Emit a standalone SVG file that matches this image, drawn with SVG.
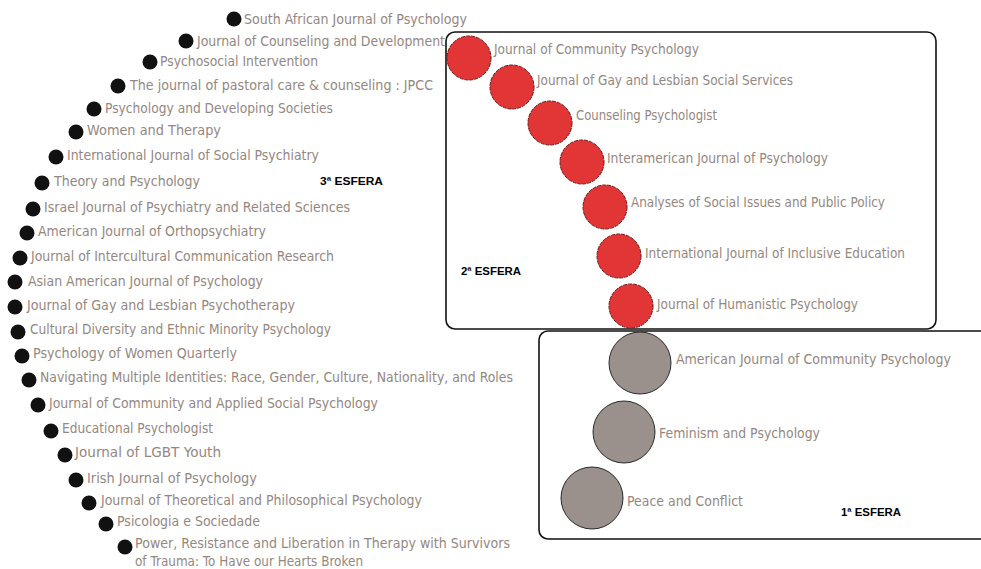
<svg xmlns="http://www.w3.org/2000/svg" width="981" height="569" viewBox="0 0 981 569">
  <style>
    .lbl { font-family: "DejaVu Sans", "Liberation Sans", sans-serif; font-size: 14px; fill: #94877f; }
    .dot { fill: #111; }
    .red { fill: #e23636; stroke: #6e1414; stroke-width: 1; stroke-dasharray: 4 1; }
    .grey { fill: #9a918c; stroke: #2a2a2a; stroke-width: 1; }
    .zone { fill: none; stroke: #111; stroke-width: 1.6; }
    .tag { font-family: "Liberation Sans", Arial, sans-serif; font-size: 11.5px; font-weight: bold; fill: #000; }
  </style>
  <rect width="981" height="569" fill="#fff"/>

  <!-- sphere boundaries -->
  <g id="zones">
    <rect class="zone" x="446" y="32" width="490" height="297" rx="9"/>
    <rect class="zone" x="539" y="331" width="460" height="208" rx="9"/>
  </g>

  <!-- sphere titles -->
  <g id="sphere-labels">
    <text class="tag" x="320" y="185" textLength="63" lengthAdjust="spacingAndGlyphs">3ª ESFERA</text>
    <text class="tag" x="461" y="275" textLength="60" lengthAdjust="spacingAndGlyphs">2ª ESFERA</text>
    <text class="tag" x="841" y="516" textLength="60" lengthAdjust="spacingAndGlyphs">1ª ESFERA</text>
  </g>

  <!-- third sphere: outer arc of journals -->
  <g id="n01"><circle class="dot" cx="234" cy="19" r="7.5"/><text class="lbl" x="244" y="24" textLength="223" lengthAdjust="spacingAndGlyphs">South African Journal of Psychology</text></g>
  <g id="n02"><circle class="dot" cx="186" cy="41" r="7.5"/><text class="lbl" x="197" y="46" textLength="248" lengthAdjust="spacingAndGlyphs">Journal of Counseling and Development</text></g>
  <g id="n03"><circle class="dot" cx="150" cy="62" r="7.5"/><text class="lbl" x="160" y="66" textLength="158" lengthAdjust="spacingAndGlyphs">Psychosocial Intervention</text></g>
  <g id="n04"><circle class="dot" cx="118" cy="86" r="7.5"/><text class="lbl" x="130" y="90" textLength="303" lengthAdjust="spacingAndGlyphs">The journal of pastoral care &amp; counseling : JPCC</text></g>
  <g id="n05"><circle class="dot" cx="94" cy="109" r="7.5"/><text class="lbl" x="105" y="113" textLength="228" lengthAdjust="spacingAndGlyphs">Psychology and Developing Societies</text></g>
  <g id="n06"><circle class="dot" cx="76" cy="132" r="7.5"/><text class="lbl" x="87" y="135" textLength="134" lengthAdjust="spacingAndGlyphs">Women and Therapy</text></g>
  <g id="n07"><circle class="dot" cx="56" cy="157" r="7.5"/><text class="lbl" x="67" y="160" textLength="252" lengthAdjust="spacingAndGlyphs">International Journal of Social Psychiatry</text></g>
  <g id="n08"><circle class="dot" cx="42" cy="183" r="7.5"/><text class="lbl" x="54" y="186" textLength="146" lengthAdjust="spacingAndGlyphs">Theory and Psychology</text></g>
  <g id="n09"><circle class="dot" cx="33" cy="209" r="7.5"/><text class="lbl" x="44" y="212" textLength="306" lengthAdjust="spacingAndGlyphs">Israel Journal of Psychiatry and Related Sciences</text></g>
  <g id="n10"><circle class="dot" cx="27" cy="233" r="7.5"/><text class="lbl" x="38" y="236" textLength="228" lengthAdjust="spacingAndGlyphs">American Journal of Orthopsychiatry</text></g>
  <g id="n11"><circle class="dot" cx="20" cy="258" r="7.5"/><text class="lbl" x="31" y="261" textLength="303" lengthAdjust="spacingAndGlyphs">Journal of Intercultural Communication Research</text></g>
  <g id="n12"><circle class="dot" cx="15" cy="282" r="7.5"/><text class="lbl" x="28" y="286" textLength="235" lengthAdjust="spacingAndGlyphs">Asian American Journal of Psychology</text></g>
  <g id="n13"><circle class="dot" cx="15" cy="307" r="7.5"/><text class="lbl" x="27" y="310" textLength="268" lengthAdjust="spacingAndGlyphs">Journal of Gay and Lesbian Psychotherapy</text></g>
  <g id="n14"><circle class="dot" cx="18" cy="332" r="7.5"/><text class="lbl" x="30" y="334" textLength="301" lengthAdjust="spacingAndGlyphs">Cultural Diversity and Ethnic Minority Psychology</text></g>
  <g id="n15"><circle class="dot" cx="22" cy="356" r="7.5"/><text class="lbl" x="33" y="358" textLength="204" lengthAdjust="spacingAndGlyphs">Psychology of Women Quarterly</text></g>
  <g id="n16"><circle class="dot" cx="29" cy="380" r="7.5"/><text class="lbl" x="40" y="382" textLength="473" lengthAdjust="spacingAndGlyphs">Navigating Multiple Identities: Race, Gender, Culture, Nationality, and Roles</text></g>
  <g id="n17"><circle class="dot" cx="38" cy="405" r="7.5"/><text class="lbl" x="49" y="408" textLength="329" lengthAdjust="spacingAndGlyphs">Journal of Community and Applied Social Psychology</text></g>
  <g id="n18"><circle class="dot" cx="51" cy="431" r="7.5"/><text class="lbl" x="62" y="433" textLength="151" lengthAdjust="spacingAndGlyphs">Educational Psychologist</text></g>
  <g id="n19"><circle class="dot" cx="65" cy="455" r="7.5"/><text class="lbl" x="75" y="457" textLength="146" lengthAdjust="spacingAndGlyphs">Journal of LGBT Youth</text></g>
  <g id="n20"><circle class="dot" cx="76" cy="480" r="7.5"/><text class="lbl" x="87" y="483" textLength="170" lengthAdjust="spacingAndGlyphs">Irish Journal of Psychology</text></g>
  <g id="n21"><circle class="dot" cx="89" cy="503" r="7.5"/><text class="lbl" x="101" y="505" textLength="321" lengthAdjust="spacingAndGlyphs">Journal of Theoretical and Philosophical Psychology</text></g>
  <g id="n22"><circle class="dot" cx="106" cy="524" r="7.5"/><text class="lbl" x="117" y="526" textLength="143" lengthAdjust="spacingAndGlyphs">Psicologia e Sociedade</text></g>
  <g id="n23"><circle class="dot" cx="125" cy="547" r="7.5"/>
    <text class="lbl" x="135" y="548" textLength="375" lengthAdjust="spacingAndGlyphs">Power, Resistance and Liberation in Therapy with Survivors</text>
    <text class="lbl" x="135" y="566" textLength="228" lengthAdjust="spacingAndGlyphs">of Trauma: To Have our Hearts Broken</text>
  </g>

  <!-- second sphere: red journals -->
  <g id="r1"><circle class="red" cx="469" cy="58" r="22"/><text class="lbl" x="494" y="54" textLength="205" lengthAdjust="spacingAndGlyphs">Journal of Community Psychology</text></g>
  <g id="r2"><circle class="red" cx="512" cy="87" r="22"/><text class="lbl" x="537" y="85" textLength="256" lengthAdjust="spacingAndGlyphs">Journal of Gay and Lesbian Social Services</text></g>
  <g id="r3"><circle class="red" cx="550" cy="123" r="22"/><text class="lbl" x="576" y="120" textLength="141" lengthAdjust="spacingAndGlyphs">Counseling Psychologist</text></g>
  <g id="r4"><circle class="red" cx="582" cy="162" r="22"/><text class="lbl" x="607" y="163" textLength="221" lengthAdjust="spacingAndGlyphs">Interamerican Journal of Psychology</text></g>
  <g id="r5"><circle class="red" cx="605" cy="207" r="22"/><text class="lbl" x="631" y="207" textLength="254" lengthAdjust="spacingAndGlyphs">Analyses of Social Issues and Public Policy</text></g>
  <g id="r6"><circle class="red" cx="619" cy="256" r="22"/><text class="lbl" x="645" y="258" textLength="260" lengthAdjust="spacingAndGlyphs">International Journal of Inclusive Education</text></g>
  <g id="r7"><circle class="red" cx="631" cy="306" r="22"/><text class="lbl" x="657" y="309" textLength="201" lengthAdjust="spacingAndGlyphs">Journal of Humanistic Psychology</text></g>

  <!-- first sphere: grey core journals -->
  <g id="g1"><circle class="grey" cx="640" cy="363" r="31"/><text class="lbl" x="676" y="364" textLength="275" lengthAdjust="spacingAndGlyphs">American Journal of Community Psychology</text></g>
  <g id="g2"><circle class="grey" cx="624" cy="432" r="31"/><text class="lbl" x="659" y="438" textLength="161" lengthAdjust="spacingAndGlyphs">Feminism and Psychology</text></g>
  <g id="g3"><circle class="grey" cx="592" cy="498" r="31"/><text class="lbl" x="627" y="506" textLength="116" lengthAdjust="spacingAndGlyphs">Peace and Conflict</text></g>
</svg>
